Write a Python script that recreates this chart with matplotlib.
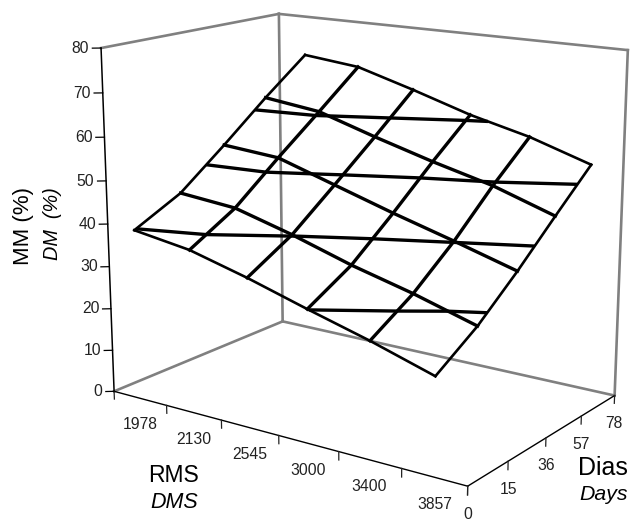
import numpy as np
import matplotlib
matplotlib.use('Agg')
import matplotlib.pyplot as plt
from mpl_toolkits.mplot3d import proj3d

# RMS categories sit in the middle of their tick intervals, days on the ticks
rms_labels = ['1978', '2130', '2545', '3000', '3400', '3857']
rms_pos = [0.5, 1.5, 2.5, 3.5, 4.5, 5.5]
day_labels = ['0', '15', '36', '57', '78']
day_pos = [0, 1, 2, 3, 4]
dm_ticks = [0, 10, 20, 30, 40, 50, 60, 70, 80]
contour_levels = [30, 40, 50, 60]

# DM (%), one row per day, one column per RMS
dm = [
    [39.8, 37.8, 34.2, 30.1, 26.2, 21.8],
    [45.1, 43.9, 40.2, 35.9, 32.3, 28.1],
    [53.5, 52.5, 48.3, 44.1, 40.2, 36.1],
    [62.3, 60.7, 56.6, 52.8, 49.4, 44.8],
    [70.5, 69.1, 65.2, 61.0, 57.7, 53.3],
]

# where the tick labels sit on the floor of the box
rms_label_x = [1.21, 2.14, 3.09, 4.04, 4.99, 5.96]
rms_label_y = [-0.78, -0.76, -0.75, -0.74, -0.73, -0.71]
day_label_x = [6.46, 6.48, 6.48, 6.49, 6.50]
day_label_y = [-0.75, 0.19, 1.14, 2.07, 3.01]

plt.rcParams['font.family'] = ['Liberation Sans', 'DejaVu Sans']

W, H = 632, 521
S = 900
fig = plt.figure(figsize=(W / 100, H / 100), dpi=100)
ax = fig.add_axes([(351.37 - S / 2) / W, (283.19 - S / 2) / H, S / W, S / H],
                  projection='3d', computed_zorder=False)
ax.view_init(elev=14.9149, azim=-54.9706)
ax.set_proj_type('persp', focal_length=0.3687)
ax.set_box_aspect((1.2003, 0.7987, 1), zoom=0.6740)
ax.set_axis_off()

x_max, y_max, z_max = 6, 4, 80
gray = '#808080'

# back walls and floor
for xs, ys, zs in [([0, 0], [0, y_max], [0, 0]),
                   ([0, x_max], [y_max, y_max], [0, 0]),
                   ([0, 0], [y_max, y_max], [0, z_max]),
                   ([x_max, x_max], [y_max, y_max], [0, z_max]),
                   ([0, 0], [0, y_max], [z_max, z_max]),
                   ([0, x_max], [y_max, y_max], [z_max, z_max])]:
    ax.plot(xs, ys, zs, color=gray, lw=1.9, zorder=1)

# black axes
ax.plot([0, 0], [0, 0], [0, z_max], color='k', lw=1.1, zorder=2)
ax.plot([0, x_max], [0, 0], [0, 0], color='k', lw=1.0, zorder=2)
ax.plot([x_max, x_max], [0, y_max], [0, 0], color='k', lw=1.0, zorder=2)

for v in range(x_max + 1):
    ax.plot([v, v], [0, 0], [0, -1.9], color='#222222', lw=0.9, zorder=2)
for v in day_pos:
    ax.plot([x_max, x_max], [v, v], [0, -1.9], color='#222222', lw=0.9, zorder=2)
for v in dm_ticks:
    ax.plot([0, -0.092], [0, -0.075], [v, v], color='k', lw=0.9, zorder=2)

# surface mesh, outer edges a bit thinner
X, Y = np.meshgrid(rms_pos, day_pos)
Z = np.array(dm)
for j in range(len(day_pos)):
    lw = 1.9 if j in (0, len(day_pos) - 1) else 2.4
    ax.plot(X[j], Y[j], Z[j], color='k', lw=lw, zorder=3)
for i in range(len(rms_pos)):
    lw = 1.9 if i in (0, len(rms_pos) - 1) else 2.4
    ax.plot(X[:, i], Y[:, i], Z[:, i], color='k', lw=lw, zorder=3)
ax.contour(X, Y, Z, levels=contour_levels, colors='k', linewidths=2.4, zorder=3)

ax.set_xlim(0, x_max)
ax.set_ylim(0, y_max)
ax.set_zlim(0, z_max)

def label3d(x, y, z, s, ha='center'):
    # flat text at the projected spot of a 3D point
    x2, y2, _ = proj3d.proj_transform(x, y, z, ax.get_proj())
    ax.text2D(x2, y2, s, transform=ax.transData, ha=ha, va='center',
              fontsize=11.3, color='#222222')

for v in dm_ticks:
    label3d(-0.126, -0.103, v, str(v), ha='right')
for label, x, y in zip(rms_labels, rms_label_x, rms_label_y):
    label3d(x, y, 0, label)
for label, x, y in zip(day_labels, day_label_x, day_label_y):
    label3d(x, y, 0, label)

def px_text(x, y, s, **kw):
    fig.text(x / W, 1 - y / H, s, ha='center', va='center', **kw)

px_text(24, 226, 'MM (%)', rotation=90, fontsize=16)
px_text(52, 224, 'DM  (%)', rotation=90, fontsize=14.3, style='italic')
px_text(173, 476, 'RMS', fontsize=16.5)
px_text(174, 503, 'DMS', fontsize=15.5, style='italic')
px_text(603, 468, 'Dias', fontsize=18)
px_text(604, 494, 'Days', fontsize=15.3, style='italic')

plt.savefig('out.png', dpi=100)
